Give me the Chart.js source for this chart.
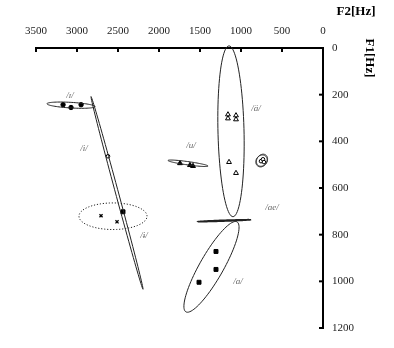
<!DOCTYPE html>
<html lang="en">
<head>
<meta charset="UTF-8" />
<title>Vowel Formant Chart</title>
<script src="https://cdn.jsdelivr.net/npm/chart.js"></script>
<style>
  html, body { margin: 0; padding: 0; background: #fff; }
  #wrap { width: 394px; height: 348px; }
</style>
</head>
<body>
<div id="wrap"><canvas id="vowelChart"></canvas></div>
<script>
  // tokens as [F2, F1] in Hz
  const ihPts = [[3170, 243], [3073, 255], [2950, 243]];          // /ɪ/ filled circles
  const iPts = [[2622, 464]];                                      // /i/ open circle
  const sqPts = [[2439, 702]];                                     // square on the /i/ ellipse
  const ixPts = [[2707, 719], [2512, 745]];                        // x marks in dotted ellipse
  const uPts = [[1744, 494], [1622, 502], [1585, 506]];            // /u/ filled triangles
  const aaPts = [[1159, 285], [1159, 302], [1061, 289], [1061, 306], [1146, 489], [1061, 536]]; // /ä/ open triangles
  const oPts = [[756, 485], [732, 477], [720, 489]];               // small cluster
  const aPts = [[1305, 872], [1305, 949], [1512, 1004]];           // /a/ filled squares

  // ellipses: centre, end of long axis, end of short axis (Hz)
  const ellCentre = [[3073, 245], [2512, 621], [2561, 721], [1646, 494], [1122, 357], [744, 481], [750, 484], [1201, 740], [1360, 938]];
  const ellMajor  = [[2780, 251], [2195, 1034], [2146, 721], [1402, 506], [1098, 723], [700, 458], [705, 462], [878, 736], [1049, 745]];
  const ellMinor  = [[3073, 233], [2494, 620], [2561, 664], [1643, 487], [963, 357], [692, 493], [697, 497], [1201, 738], [1232, 962]];
  const ellDotted = [false, false, true, false, false, false, false, false, false];

  const labelText = ['/ɪ/', '/i/', '/ɨ/', '/u/', '/ä/', '/ae/', '/a/'];
  const labelPos = [[3085, 204], [2915, 430], [2183, 804], [1610, 417], [817, 260], [622, 685], [1037, 1000]];

  const xTicks = [0, 500, 1000, 1500, 2000, 2500, 3000, 3500];
  const yTicks = [0, 200, 400, 600, 800, 1000, 1200];

  const toXY = arr => arr.map(p => ({ x: p[0], y: p[1] }));

  const extras = {
    id: 'extras',
    afterDatasetsDraw(chart) {
      const ctx = chart.ctx;
      const xs = chart.scales.x, ys = chart.scales.y;
      const px = p => [xs.getPixelForValue(p[0]), ys.getPixelForValue(p[1])];

      // ellipses
      ctx.save();
      ctx.strokeStyle = '#222';
      for (let i = 0; i < ellCentre.length; i++) {
        const c = px(ellCentre[i]), a = px(ellMajor[i]), b = px(ellMinor[i]);
        const u = [a[0] - c[0], a[1] - c[1]], v = [b[0] - c[0], b[1] - c[1]];
        ctx.beginPath();
        for (let k = 0; k <= 90; k++) {
          const t = k / 90 * Math.PI * 2;
          const X = c[0] + Math.cos(t) * u[0] + Math.sin(t) * v[0];
          const Y = c[1] + Math.cos(t) * u[1] + Math.sin(t) * v[1];
          if (k === 0) ctx.moveTo(X, Y); else ctx.lineTo(X, Y);
        }
        ctx.lineWidth = i === 7 ? 1.5 : 1;
        ctx.setLineDash(ellDotted[i] ? [1.2, 1.8] : []);
        ctx.stroke();
      }
      ctx.setLineDash([]);

      // vowel labels
      ctx.font = 'italic 9px "Liberation Serif"';
      ctx.fillStyle = '#666';
      ctx.textAlign = 'center';
      ctx.textBaseline = 'middle';
      labelText.forEach((t, i) => {
        const p = px(labelPos[i]);
        ctx.fillText(t, p[0], p[1]);
      });
      ctx.restore();
    },
    afterDraw(chart) {
      const ctx = chart.ctx;
      const area = chart.chartArea;
      const xs = chart.scales.x, ys = chart.scales.y;
      ctx.save();
      ctx.strokeStyle = '#000';
      ctx.lineWidth = 2;
      // inward tick marks
      xTicks.forEach(v => {
        const x = xs.getPixelForValue(v);
        ctx.beginPath(); ctx.moveTo(x, area.top); ctx.lineTo(x, area.top + 4); ctx.stroke();
      });
      yTicks.forEach(v => {
        const y = ys.getPixelForValue(v);
        ctx.beginPath(); ctx.moveTo(area.right, y); ctx.lineTo(area.right - 4, y); ctx.stroke();
      });
      // axis titles
      ctx.fillStyle = '#000';
      ctx.font = 'bold 13px "Liberation Serif"';
      ctx.textAlign = 'center';
      ctx.textBaseline = 'middle';
      ctx.fillText('F2[Hz]', 356, 12);
      ctx.translate(369, 58);
      ctx.rotate(Math.PI / 2);
      ctx.fillText('F1[Hz]', 0, 0);
      ctx.restore();
    }
  };

  const black = '#000';
  new Chart(document.getElementById('vowelChart'), {
    type: 'scatter',
    data: {
      datasets: [
        { data: toXY(ihPts), pointStyle: 'circle', radius: 2.2, backgroundColor: black, borderColor: black },
        { data: toXY(iPts), pointStyle: 'circle', radius: 1.8, backgroundColor: '#fff', borderColor: black, borderWidth: 1 },
        { data: toXY(sqPts), pointStyle: 'rect', radius: 2.8, backgroundColor: black, borderColor: black },
        { data: toXY(ixPts), pointStyle: 'crossRot', radius: 2.2, borderColor: black, borderWidth: 1.3 },
        { data: toXY(uPts), pointStyle: 'triangle', radius: 2.8, backgroundColor: black, borderColor: black },
        { data: toXY(aaPts), pointStyle: 'triangle', radius: 2.8, backgroundColor: '#fff', borderColor: black, borderWidth: 1 },
        { data: toXY(oPts), pointStyle: 'circle', radius: 1.8, backgroundColor: '#fff', borderColor: black, borderWidth: 1 },
        { data: toXY(aPts), pointStyle: 'rect', radius: 2.8, backgroundColor: black, borderColor: black }
      ]
    },
    options: {
      responsive: true,
      maintainAspectRatio: false,
      animation: false,
      layout: { padding: { left: 36, bottom: 20, top: 0, right: 0 } },
      plugins: { legend: { display: false }, tooltip: { enabled: false } },
      scales: {
        x: {
          type: 'linear',
          position: 'top',
          reverse: true,
          min: 0,
          max: 3500,
          afterFit: s => { s.height = 48; },
          afterBuildTicks: s => { s.ticks = xTicks.map(v => ({ value: v })); },
          grid: { display: false, drawTicks: false },
          border: { display: true, color: black, width: 2 },
          ticks: { padding: 10, color: '#222', font: { family: 'Liberation Serif', size: 11 }, maxRotation: 0, callback: v => String(v) }
        },
        y: {
          type: 'linear',
          position: 'right',
          reverse: true,
          min: 0,
          max: 1200,
          afterFit: s => { s.width = 71; },
          afterBuildTicks: s => { s.ticks = yTicks.map(v => ({ value: v })); },
          grid: { display: false, drawTicks: false },
          border: { display: true, color: black, width: 2 },
          ticks: { padding: 9, color: '#222', font: { family: 'Liberation Serif', size: 11 }, callback: v => String(v) }
        }
      }
    },
    plugins: [extras]
  });
</script>
</body>
</html>
